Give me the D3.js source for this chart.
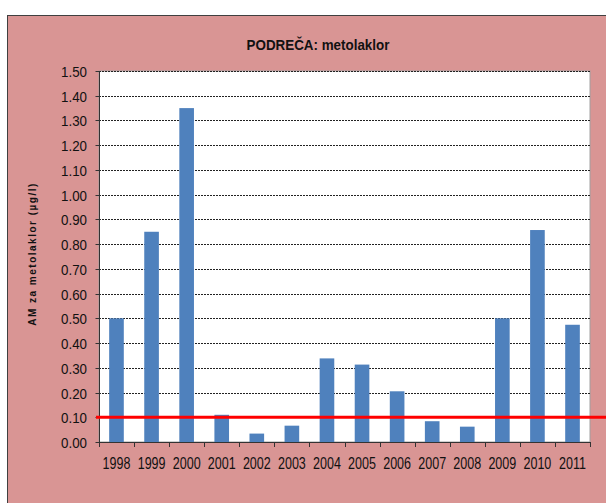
<!DOCTYPE html>
<html><head><meta charset="utf-8">
<script src="https://cdn.jsdelivr.net/npm/d3@7"></script>
<style>
html,body{margin:0;padding:0;background:#fff;overflow:hidden;}
svg{display:block;}
</style></head>
<body>
<svg id="c" width="606" height="503"></svg>
<script>
const title = "PODREČA: metolaklor";
const yLabel = "AM za metolaklor  (µg/l)";
const years = ["1998","1999","2000","2001","2002","2003","2004","2005","2006","2007","2008","2009","2010","2011"];
const values = [0.50,0.85,1.35,0.11,0.034,0.066,0.338,0.313,0.205,0.084,0.062,0.50,0.857,0.474];
const yTicks = [0,0.1,0.2,0.3,0.4,0.5,0.6,0.7,0.8,0.9,1.0,1.1,1.2,1.3,1.4,1.5];
const limitValue = 0.1;

const svg = d3.select("#c");
const font = "'Liberation Sans',Arial,sans-serif";

svg.append("rect").attr("x",7.5).attr("y",15.5).attr("width",606).attr("height",500)
  .attr("fill","#d99594").attr("stroke","#404040").attr("stroke-width",1);

const L=99, R=590, T=71, B=442;
const x = d3.scaleBand().domain(years).range([L,R]).paddingInner(0.583).paddingOuter(0.29);
const xb = d3.scaleBand().domain(years).range([L,R]);
const y = d3.scaleLinear().domain([0,1.5]).range([B,T]);

svg.append("rect").attr("x",L).attr("y",T).attr("width",R-L).attr("height",B-T).attr("fill","#fff")
  .attr("stroke","#a0a0a0").attr("stroke-width",1);

svg.append("g").selectAll("line").data(yTicks.filter(d=>d>0)).join("line")
  .attr("x1",L).attr("x2",R).attr("y1",d=>Math.round(y(d))+0.5).attr("y2",d=>Math.round(y(d))+0.5)
  .attr("stroke","#222").attr("stroke-width",1).attr("stroke-dasharray","2,1");

const ya = svg.append("g").attr("transform",`translate(${L+0.5},0)`)
  .call(d3.axisLeft(y).tickValues(yTicks).tickFormat(d3.format(".2f")).tickSize(4).tickPadding(8));
ya.select(".domain").attr("stroke","#333").attr("d",`M0,${T}V${B}`);
ya.selectAll(".tick line").attr("stroke","#333");
ya.selectAll(".tick").attr("transform",d=>`translate(0,${Math.round(y(d))+0.5})`);
ya.selectAll("text").attr("font-family",font).attr("font-size","14.5px").attr("fill","#111")
  .attr("x",0).attr("dy","0.36em").attr("transform",`translate(-12.5,0) scale(0.92,1)`);

svg.append("g").selectAll("rect").data(years).join("rect")
  .attr("x",d=>x(d)).attr("width",x.bandwidth())
  .attr("y",(d,i)=>y(values[i])).attr("height",(d,i)=>B-y(values[i]))
  .attr("fill","#4f81bd");

const xa = svg.append("g").attr("transform",`translate(0,${B+0.5})`)
  .call(d3.axisBottom(xb).tickSize(0).tickPadding(0));
xa.select(".domain").attr("stroke","#333").attr("d",`M${L},0H${R}`);
xa.selectAll("text").attr("font-family",font).attr("font-size","16.5px").attr("fill","#111")
  .attr("y",0).attr("dy",0).attr("transform",`translate(0,26.5) scale(0.76,1)`);
svg.append("g").selectAll("line").data(years.concat(["end"])).join("line")
  .attr("x1",(d,i)=>Math.round(L+i*xb.step())+0.5).attr("x2",(d,i)=>Math.round(L+i*xb.step())+0.5)
  .attr("y1",B).attr("y2",B+5).attr("stroke","#333");

svg.append("line").attr("x1",96).attr("x2",606).attr("y1",y(limitValue)).attr("y2",y(limitValue))
  .attr("stroke","#ff0000").attr("stroke-width",3);

svg.append("text").attr("text-anchor","middle")
  .attr("transform",`translate(318,49.5) scale(0.87,1)`)
  .attr("font-family",font).attr("font-weight","bold").attr("font-size","15.4px").attr("fill","#111")
  .text(title);

svg.append("text").attr("transform","translate(36,254) rotate(-90)").attr("text-anchor","middle")
  .attr("font-family",font).attr("font-weight","bold").attr("font-size","10px")
  .attr("letter-spacing","1.5px").attr("fill","#111").text(yLabel);
</script>
</body></html>
